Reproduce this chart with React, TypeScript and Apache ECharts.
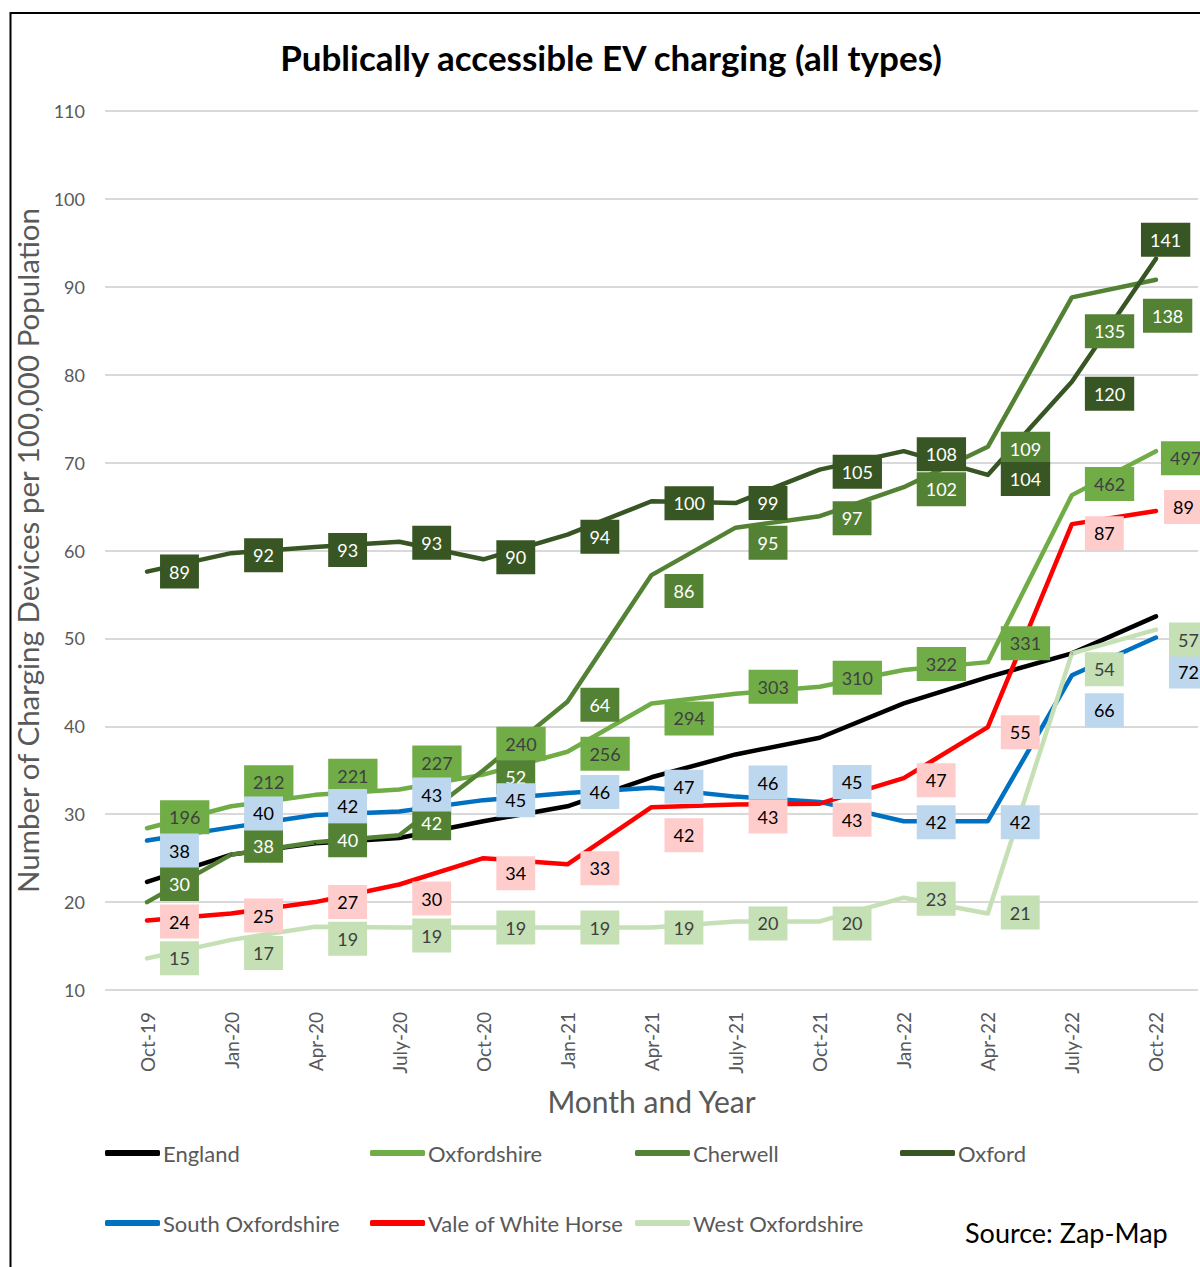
import React, { useEffect, useRef } from "react";
import * as echarts from "echarts";

const categories = ["Oct-19", "Jan-20", "Apr-20", "July-20", "Oct-20", "Jan-21", "Apr-21", "July-21", "Oct-21", "Jan-22", "Apr-22", "July-22", "Oct-22"];

// Devices per 100,000 population (line positions)
const englandRate = [22.3, 25.4, 26.7, 27.3, 29.2, 30.9, 34.2, 36.8, 38.7, 42.6, 45.6, 48.3, 52.5];
const oxfordshireRate = [28.4, 30.9, 32.2, 32.8, 34.5, 37.1, 42.6, 43.7, 44.5, 46.4, 47.3, 66.3, 71.3];
const cherwellRate = [20.0, 25.4, 26.8, 27.6, 35.0, 42.8, 57.2, 62.6, 63.9, 67.2, 71.8, 88.8, 90.8];
const oxfordRate = [57.6, 59.7, 60.4, 61.0, 59.0, 61.8, 65.6, 65.4, 69.2, 71.3, 68.6, 79.2, 93.2];
const southOxonRate = [27.0, 28.5, 29.9, 30.3, 31.6, 32.4, 33.0, 32.0, 31.4, 29.2, 29.2, 45.8, 50.1];
const valeRate = [17.9, 18.7, 20.0, 22.0, 25.0, 24.3, 30.8, 31.1, 31.2, 34.1, 39.9, 63.0, 64.5];
const westOxonRate = [13.6, 15.7, 17.2, 17.1, 17.1, 17.1, 17.1, 17.8, 17.8, 20.5, 18.7, 48.3, 51.0];

// Device counts (data labels)
const oxfordshireCount = [196, 212, 221, 227, 240, 256, 294, 303, 310, 322, 331, 462, 497];
const cherwellCount = [30, 38, 40, 42, 52, 64, 86, 95, 97, 102, 109, 135, 138];
const oxfordCount = [89, 92, 93, 93, 90, 94, 100, 99, 105, 108, 104, 120, 141];
const southOxonCount = [38, 40, 42, 43, 45, 46, 47, 46, 45, 42, 42, 66, 72];
const valeCount = [24, 25, 27, 30, 34, 33, 42, 43, 43, 47, 55, 87, 89];
const westOxonCount = [15, 17, 19, 19, 19, 19, 19, 20, 20, 23, 21, 54, 57];

const yTicks = { min: 10, max: 110, interval: 10 };

// Layout only: label nudges (px) as placed by hand in the original chart
const oxfordshireNudgeY = [-11, -24, -19, -27, -31, 2, 15, -7, -9, -6, -19, -11, 7];
const cherwellNudgeY = [-18, -9, -2, -12, 7, 3, 16, 15, 2, 2, 2, 34, 36];
const oxfordNudgeY = [0, 2, 3, 1, -2, 2, 2, 0, 2, 3, 4, 12, -19];
const southOxonNudgeY = [10, -14, -9, -17, 0, -1, -1, -14, -20, 1, 1, 35, 34];
const valeNudgeY = [1, 2, 0, 14, 15, 4, 28, 12, 16, 2, 5, 9, -4];
const westOxonNudgeY = [0, 13, 12, 8, 0, 0, 0, 2, 2, 1, -1, 16, 10];
const lastNudgeX = { Oxfordshire: -8, Cherwell: -26, Oxford: -28, "Vale of White Horse": -5 } as Record<string, number>;

const FONT = "Lato";

type SeriesDef = {
  name: string;
  color: string;
  rate: number[];
  counts: number[] | null;
  nudge?: number[];
  labelBg?: string;
  labelColor?: string;
};

const seriesDefs: SeriesDef[] = [
  { name: "England", color: "#000000", rate: englandRate, counts: null },
  { name: "Oxfordshire", color: "#70AD47", rate: oxfordshireRate, counts: oxfordshireCount, nudge: oxfordshireNudgeY, labelBg: "#70AD47", labelColor: "#404040" },
  { name: "Cherwell", color: "#548235", rate: cherwellRate, counts: cherwellCount, nudge: cherwellNudgeY, labelBg: "#548235", labelColor: "#FFFFFF" },
  { name: "Oxford", color: "#375623", rate: oxfordRate, counts: oxfordCount, nudge: oxfordNudgeY, labelBg: "#375623", labelColor: "#FFFFFF" },
  { name: "South Oxfordshire", color: "#0070C0", rate: southOxonRate, counts: southOxonCount, nudge: southOxonNudgeY, labelBg: "#BDD7EE", labelColor: "#000000" },
  { name: "Vale of White Horse", color: "#FF0000", rate: valeRate, counts: valeCount, nudge: valeNudgeY, labelBg: "#FFCCCC", labelColor: "#000000" },
  { name: "West Oxfordshire", color: "#C5E0B4", rate: westOxonRate, counts: westOxonCount, nudge: westOxonNudgeY, labelBg: "#C5E0B4", labelColor: "#404040" },
];

const legendPos = [
  [105, 1142], [370, 1142], [635, 1142], [900, 1142],
  [105, 1212], [370, 1212], [635, 1212],
];

export default function App() {
  const ref = useRef<HTMLDivElement>(null);

  useEffect(() => {
    if (!ref.current) return;
    const chart = echarts.init(ref.current, undefined, { renderer: "svg" });

    const series = seriesDefs.map((s) => {
      const n = s.rate.length;
      const data = s.rate.map((v, i) => {
        if (!s.counts) return v;
        const dx = i === n - 1 ? lastNudgeX[s.name] || 0 : 0;
        return { value: v, label: { offset: [dx, (s.nudge as number[])[i]] } };
      });
      return {
        name: s.name,
        type: "line",
        data,
        smooth: false,
        symbol: "circle",
        symbolSize: 2,
        showSymbol: true,
        color: s.color,
        itemStyle: { color: s.color },
        lineStyle: { color: s.color, width: 4.5, cap: "round", join: "round" },
        emphasis: { disabled: true },
        label: s.counts
          ? {
              show: true,
              position: "right",
              distance: 12,
              formatter: (p: any) => String((s.counts as number[])[p.dataIndex]),
              backgroundColor: s.labelBg,
              color: s.labelColor,
              fontFamily: FONT,
              fontSize: 18,
              lineHeight: 18,
              padding: [8, 9, 8, 9],
            }
          : { show: false },
      };
    });

    const legends = seriesDefs.map((s, i) => ({
      show: true,
      left: legendPos[i][0],
      top: legendPos[i][1],
      padding: 0,
      data: [s.name],
      icon: "roundRect",
      itemWidth: 55,
      itemHeight: 6,
      selectedMode: false,
      textStyle: { fontFamily: FONT, fontSize: 22, color: "#595959", padding: [0, 0, 0, -2] },
    }));

    chart.setOption({
      animation: false,
      backgroundColor: "#FFFFFF",
      textStyle: { fontFamily: FONT },
      grid: { left: 105, right: 2, top: 111, bottom: 277, containLabel: false },
      legend: legends,
      xAxis: {
        type: "category",
        data: categories,
        boundaryGap: true,
        axisLine: { show: false },
        axisTick: { show: false },
        axisLabel: { rotate: 90, margin: 22, fontFamily: FONT, fontSize: 19, color: "#595959", interval: 0 },
        name: "Month and Year",
        nameLocation: "middle",
        nameGap: 96,
        nameTextStyle: { fontFamily: FONT, fontSize: 30, color: "#595959" },
      },
      yAxis: {
        type: "value",
        min: yTicks.min,
        max: yTicks.max,
        interval: yTicks.interval,
        axisLine: { show: false },
        axisTick: { show: false },
        splitLine: { lineStyle: { color: "#D9D9D9", width: 2 } },
        axisLabel: { margin: 20, fontFamily: FONT, fontSize: 18, color: "#595959" },
        name: "Number of Charging Devices per 100,000 Population",
        nameLocation: "middle",
        nameGap: 43,
        nameTextStyle: { fontFamily: FONT, fontSize: 29.5, color: "#595959" },
      },
      graphic: [
        {
          type: "polyline",
          shape: { points: [[10.5, 1267], [10.5, 13], [1200, 13]] },
          style: { stroke: "#000000", lineWidth: 2, fill: "none" },
          silent: true,
        },
        {
          type: "text",
          x: 611,
          y: 57,
          style: {
            text: "Publically accessible EV charging (all types)",
            fontFamily: FONT,
            fontWeight: "bold",
            fontSize: 35,
            fill: "#000000",
            align: "center",
            verticalAlign: "middle",
          },
        },
        {
          type: "text",
          x: 965,
          y: 1232,
          style: {
            text: "Source: Zap-Map",
            fontFamily: FONT,
            fontSize: 27,
            fill: "#000000",
            align: "left",
            verticalAlign: "middle",
          },
        },
      ],
      series,
    });

    return () => chart.dispose();
  }, []);

  return (
    <div
      ref={ref}
      style={{ position: "absolute", left: 0, top: 0, width: 1200, height: 1267, background: "#fff" }}
    />
  );
}
